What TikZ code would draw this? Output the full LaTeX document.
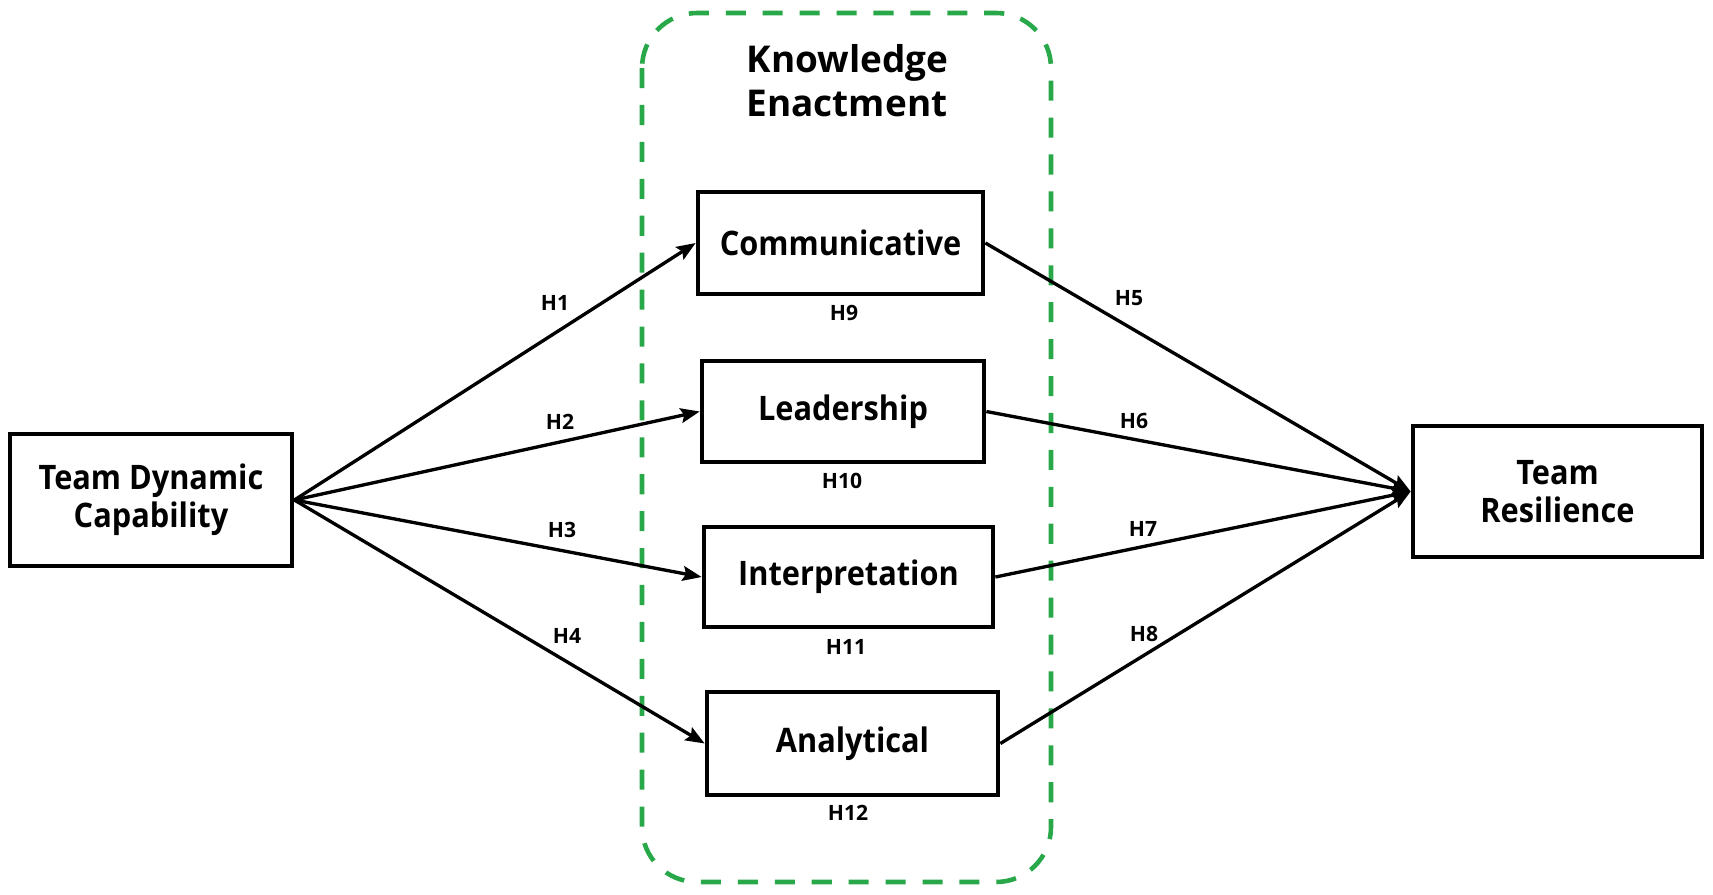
\documentclass[tikz,border=0pt]{standalone}
\usepackage{fontspec}
\setmainfont{Open Sans}
\newfontfamily\boxfont{Open Sans}[FakeStretch=0.91]
\usetikzlibrary{arrows.meta}
\definecolor{kegreen}{RGB}{40,168,72}
\begin{document}
\begin{tikzpicture}[x=0.01cm,y=-0.01cm,
  box/.style={draw=black, line width=1.3pt, fill=white, inner sep=0pt, align=center,
    font=\boxfont\bfseries\fontsize{9.6}{10.8}\selectfont},
  hlab/.style={inner sep=0pt, font=\bfseries\fontsize{6}{7}\selectfont},
  link/.style={line width=0.95pt, -{Stealth[length=5.4pt,width=4.2pt,inset=0.9pt]}},
  title/.style={inner sep=0pt, align=left, font=\bfseries\fontsize{10.5}{12.5}\selectfont}
]
\useasboundingbox (0,0) rectangle (1713,894);
\draw[kegreen, line width=1.3pt, dash pattern=on 5.7pt off 4.8pt, rounded corners=0.55cm]
  (642,13) rectangle (1051,882);
\node[title, anchor=west] (ke) at (746,81) {Knowledge\\Enactment};

\node[box, minimum width=2.82cm, minimum height=1.32cm] (tdc) at (151,500) {Team Dynamic\\Capability};
\node[box, minimum width=2.85cm, minimum height=1.02cm] (comm) at (840.5,243) {Communicative};
\node[box, minimum width=2.82cm, minimum height=1.01cm] (lead) at (843,411.5) {Leadership};
\node[box, minimum width=2.89cm, minimum height=1.00cm] (interp) at (848.5,577) {Interpretation};
\node[box, minimum width=2.91cm, minimum height=1.03cm] (anal) at (852.5,743.5) {Analytical};
\node[box, minimum width=2.89cm, minimum height=1.31cm] (tr) at (1557.5,491.5) {Team\\Resilience};

\draw[link] (tdc.east) -- (comm.west);
\draw[link] (tdc.east) -- (lead.west);
\draw[link] (tdc.east) -- (interp.west);
\draw[link] (tdc.east) -- (anal.west);
\draw[link] (comm.east) -- (tr.west);
\draw[link] (lead.east) -- (tr.west);
\draw[link] (interp.east) -- (tr.west);
\draw[link] (anal.east) -- (tr.west);

\node[hlab] (h1) at (555,303) {H1};
\node[hlab] (h2) at (560,422) {H2};
\node[hlab] (h3) at (562,530) {H3};
\node[hlab] (h4) at (567,636) {H4};
\node[hlab] (h5) at (1129,298) {H5};
\node[hlab] (h6) at (1134,421) {H6};
\node[hlab] (h7) at (1143,529) {H7};
\node[hlab] (h8) at (1144,634) {H8};
\node[hlab] (h9) at (844,313) {H9};
\node[hlab] (h10) at (842,481) {H10};
\node[hlab] (h11) at (846,647) {H11};
\node[hlab] (h12) at (848,813) {H12};
\end{tikzpicture}
\end{document}
